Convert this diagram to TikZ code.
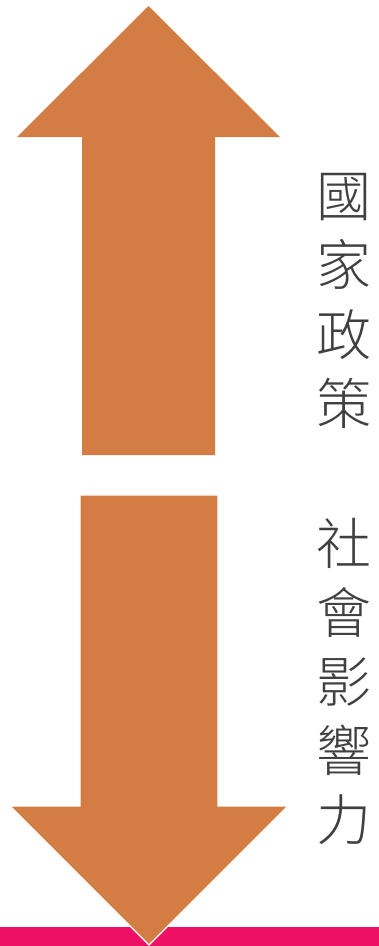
\documentclass[tikz,border=0pt]{standalone}
\usepackage{fontspec}
\newfontfamily\cjk{Noto Sans CJK TC}[UprightFont={* Light}]
\definecolor{arroworange}{HTML}{D37D45}
\definecolor{barpink}{HTML}{EC1165}
\definecolor{textgray}{HTML}{404040}
\tikzset{
  word/.style={anchor=base, inner sep=0pt, text=textgray, font=\cjk\fontsize{55}{55}\selectfont}
}
\begin{document}
\begin{tikzpicture}[x=1pt, y=-1pt]
                \useasboundingbox (0, 0) rectangle (379, 946);

                  % bottom bar
                  \fill[barpink] (0, 927) rectangle (379, 946);

                  % up arrow
                  \fill[arroworange] (148.5, 6) -- (280, 137) -- (215, 137) -- (215, 455)
                     -- (82, 455) -- (82, 137) -- (17, 137) -- cycle;

                  % down arrow
                  \filldraw[fill=arroworange, draw=white, line width=1.2pt] (80, 495) -- (218, 495)
                     -- (218, 806) -- (288, 806) -- (149, 945) -- (10, 806) -- (80, 806) -- cycle;

                  % labels
                  \foreach \ch [count=\i] in {國, 家, 政, 策}
                     \node[word] (p\i) at (344, 216 + 69.5*\i - 69.5) {\ch};
                  \foreach \ch [count=\i] in {社, 會, 影, 響, 力}
                     \node[word] (s\i) at (344, 564 + 69*\i - 69) {\ch};

\end{tikzpicture}
\end{document}
